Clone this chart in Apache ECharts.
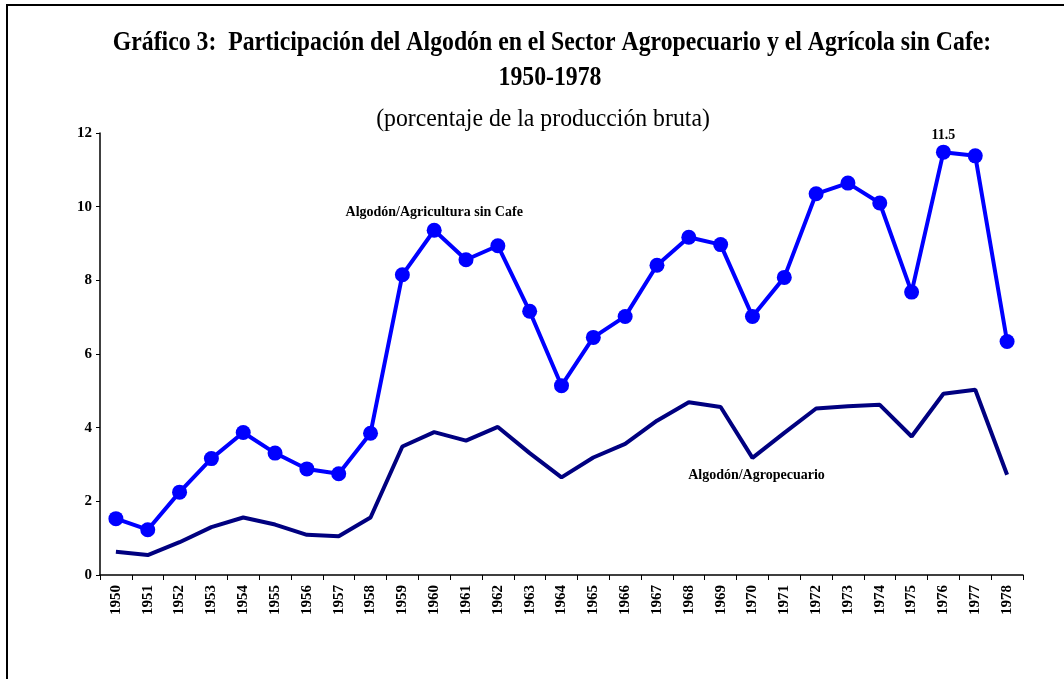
<!DOCTYPE html>
<html>
<head>
<meta charset="utf-8">
<script src="https://cdn.jsdelivr.net/npm/echarts@6/dist/echarts.min.js"></script>
<style>
html,body{margin:0;padding:0;background:#fff;}
#chart{width:1064px;height:679px;}
</style>
</head>
<body>
<div id="chart"></div>
<script>
const years = ['1950','1951','1952','1953','1954','1955','1956','1957','1958','1959','1960','1961','1962','1963','1964','1965','1966','1967','1968','1969','1970','1971','1972','1973','1974','1975','1976','1977','1978'];
const agriSinCafe = [1.53,1.23,2.25,3.16,3.87,3.31,2.88,2.75,3.85,8.15,9.36,8.56,8.94,7.16,5.14,6.45,7.02,8.41,9.17,8.97,7.02,8.08,10.35,10.64,10.10,7.68,11.48,11.38,6.34];
const agropecuario = [0.63,0.54,0.89,1.30,1.56,1.37,1.09,1.05,1.56,3.49,3.88,3.65,4.02,3.31,2.65,3.19,3.56,4.19,4.69,4.56,3.18,3.86,4.52,4.58,4.62,3.76,4.92,5.03,2.72];
const yTicks = {min:0, max:12, interval:2};
const titleLine1 = 'Gráfico 3:  Participación del Algodón en el Sector Agropecuario y el Agrícola sin Cafe:';
const titleLine2 = '1950-1978';
const subtitle = '(porcentaje de la producción bruta)';
const nameAgri = 'Algodón/Agricultura sin Cafe';
const nameAgro = 'Algodón/Agropecuario';
const peakLabel = '11.5';

const serif = '"Liberation Serif", "Times New Roman", serif';
const chart = echarts.init(document.getElementById('chart'));

const agriData = agriSinCafe.map((v, i) => {
  if (years[i] === '1976') {
    return {value: v, label: {show: true, position: 'top', distance: 2, formatter: peakLabel,
      fontFamily: serif, fontWeight: 'bold', fontSize: 14, color: '#000'}};
  }
  return v;
});

chart.setOption({
  animation: false,
  backgroundColor: '#fff',
  grid: {left: 100, right: 41, top: 133, bottom: 104, containLabel: false},
  graphic: [
    {type: 'rect', shape: {x: 7, y: 5, width: 1200, height: 800}, style: {fill: 'none', stroke: '#000', lineWidth: 2}, silent: true},
    {type: 'text', x: 552, y: 43, scaleX: 0.88, style: {text: titleLine1, font: 'bold 27px ' + serif, fill: '#000', align: 'center', verticalAlign: 'middle'}},
    {type: 'text', x: 550, y: 78, scaleX: 0.88, style: {text: titleLine2, font: 'bold 27px ' + serif, fill: '#000', align: 'center', verticalAlign: 'middle'}},
    {type: 'text', x: 543, y: 119, scaleX: 0.95, style: {text: subtitle, font: '25px ' + serif, fill: '#000', align: 'center', verticalAlign: 'middle'}}
  ],
  xAxis: {
    type: 'category',
    data: years,
    boundaryGap: true,
    axisLine: {show: true, lineStyle: {color: '#000', width: 1.5}},
    axisTick: {show: true, length: 5, lineStyle: {color: '#000'}},
    axisLabel: {rotate: 90, margin: 10, fontFamily: serif, fontWeight: 'bold', fontSize: 15, color: '#000', interval: 0},
    splitLine: {show: false}
  },
  yAxis: {
    type: 'value',
    min: yTicks.min, max: yTicks.max, interval: yTicks.interval,
    axisLine: {show: true, lineStyle: {color: '#000', width: 1.5}},
    axisTick: {show: true, length: 4, lineStyle: {color: '#000'}},
    axisLabel: {margin: 8, fontFamily: serif, fontWeight: 'bold', fontSize: 15, color: '#000'},
    splitLine: {show: false}
  },
  series: [
    {
      name: nameAgro,
      type: 'line',
      data: agropecuario,
      symbol: 'none',
      lineStyle: {color: '#000080', width: 4},
      itemStyle: {color: '#000080'},
      z: 2,
      markPoint: {
        symbol: 'circle', symbolSize: 0,
        data: [{coord: ['1970', 2.70], value: 0}],
        label: {show: true, position: 'inside', offset: [4, 0], formatter: nameAgro, fontFamily: serif, fontWeight: 'bold', fontSize: 14, color: '#000'}
      }
    },
    {
      name: nameAgri,
      type: 'line',
      data: agriData,
      symbol: 'circle',
      symbolSize: 15,
      showAllSymbol: true,
      lineStyle: {color: '#0000FF', width: 4},
      itemStyle: {color: '#0000FF'},
      z: 3,
      markPoint: {
        symbol: 'circle', symbolSize: 0,
        data: [{coord: ['1960', 9.84], value: 0}],
        label: {show: true, position: 'inside', formatter: nameAgri, fontFamily: serif, fontWeight: 'bold', fontSize: 14, color: '#000'}
      }
    }
  ]
});
</script>
</body>
</html>
